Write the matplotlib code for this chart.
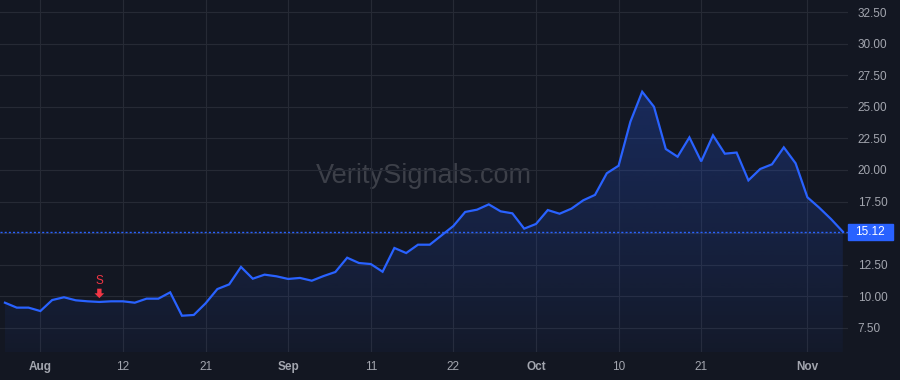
import numpy as np
import matplotlib
matplotlib.use("Agg")
from matplotlib import pyplot as plt
from matplotlib.patches import Rectangle
from matplotlib.colors import to_rgb

# closing values, one per trading day (29 Jul .. 6 Nov)
closes = [9.50, 9.11, 9.11, 8.84, 9.71, 9.93, 9.69, 9.61, 9.56, 9.61,
          9.61, 9.50, 9.82, 9.82, 10.32, 8.47, 8.53, 9.45, 10.58, 10.95,
          12.33, 11.40, 11.72, 11.59, 11.38, 11.46, 11.24, 11.61, 11.93, 13.06,
          12.64, 12.56, 11.95, 13.83, 13.43, 14.09, 14.09, 14.83, 15.57, 16.68,
          16.86, 17.28, 16.73, 16.57, 15.36, 15.73, 16.83, 16.54, 16.94, 17.60,
          18.03, 19.74, 20.34, 23.82, 26.19, 25.00, 21.66, 21.05, 22.58, 20.68,
          22.74, 21.29, 21.38, 19.18, 20.08, 20.45, 21.79, 20.53, 17.84, 17.02,
          16.12, 15.12]
last_price = 15.12
tick_idx = [3, 10, 17, 24, 31, 38, 45, 52, 59, 68]
tick_lbl = ['Aug', '12', '21', 'Sep', '11', '22', 'Oct', '10', '21', 'Nov']
month_lbl = {'Aug', 'Sep', 'Oct', 'Nov'}
y_ticks = [7.5, 10, 12.5, 15, 17.5, 20, 22.5, 25, 27.5, 30, 32.5]
signal_idx = 8
signal_txt = 'S'

bg = '#131722'
blue = '#2962ff'
red = '#f23645'
grid_c = '#262a35'
txt_c = '#a3a6af'

plt.rcParams['font.family'] = ['Liberation Sans', 'DejaVu Sans']

fig = plt.figure(figsize=(9, 3.8), dpi=100, facecolor=bg)
ax = fig.add_axes([0, 28/380, 848/900, 352/380], facecolor=bg)

x = np.arange(len(closes))
y = np.array(closes)
ylo, yhi = 5.6, 33.45

# gradient fill under the line
poly = ax.fill_between(x, y, ylo, color='none', lw=0)
grad = np.linspace(0.04, 0.26, 256).reshape(-1, 1)
rgba = np.zeros((256, 1, 4))
rgba[..., :3] = to_rgb(blue)
rgba[..., 3] = grad
im = ax.imshow(rgba, aspect='auto', origin='lower',
               extent=[x[0], x[-1], ylo, y.max()], zorder=1)
im.set_clip_path(poly.get_paths()[0], ax.transData)
ax.set_xlim(-0.42, 71.44)
ax.set_ylim(ylo, yhi)

ax.plot(x, y, color=blue, lw=1.6, zorder=3, solid_joinstyle='miter')
ax.axhline(last_price, color=blue, lw=1.0, ls=(0, (1.5, 1.5)), zorder=2)

# grid + ticks (15.00 sits under the price label, so it is left blank)
ax.set_yticks(y_ticks)
ax.set_yticklabels(['' if abs(v - last_price) < 1 else f'{v:.2f}' for v in y_ticks])
ax.set_xticks(tick_idx)
ax.set_xticklabels(tick_lbl)
ax.grid(True, color=grid_c, lw=0.8)
ax.set_axisbelow(True)
ax.yaxis.tick_right()
ax.tick_params(axis='y', length=0, pad=7, labelsize=8.5, labelcolor=txt_c)
ax.tick_params(axis='x', length=0, pad=6.5, labelsize=8.5, labelcolor=txt_c)
for lab in ax.get_xticklabels():
    if lab.get_text() in month_lbl:
        lab.set_fontweight('bold')
for s in ax.spines.values():
    s.set_visible(False)

# watermark
ax.text(0.5, 0.5, 'VeritySignals.com', transform=ax.transAxes,
        ha='center', va='center', fontsize=19.5, color='#3d4049', zorder=0.5)

# sell signal
sy = y[signal_idx]
ax.annotate('', xy=(signal_idx, sy + 0.3), xytext=(signal_idx, sy + 1.05),
            arrowprops=dict(arrowstyle='simple,head_length=0.5,head_width=1.0,tail_width=0.45',
                            color=red, lw=0, mutation_scale=7,
                            shrinkA=0, shrinkB=0), zorder=4)
ax.text(signal_idx, sy + 1.65, signal_txt, color=red, fontsize=8.5,
        ha='center', va='center', zorder=4)

# last price label
tr = ax.get_yaxis_transform()
h = 16 / 31.6 * 2.5
ax.add_patch(Rectangle((1.0, last_price - h / 2), 45 / 848, h, transform=tr,
                       color=blue, clip_on=False, zorder=5))
ax.text(1.0 + 7 / 848, last_price, f'{last_price:.2f}', transform=tr, color='white',
        fontsize=8.5, ha='left', va='center', clip_on=False, zorder=6)

fig.savefig('out.png', dpi=100, facecolor=bg)
